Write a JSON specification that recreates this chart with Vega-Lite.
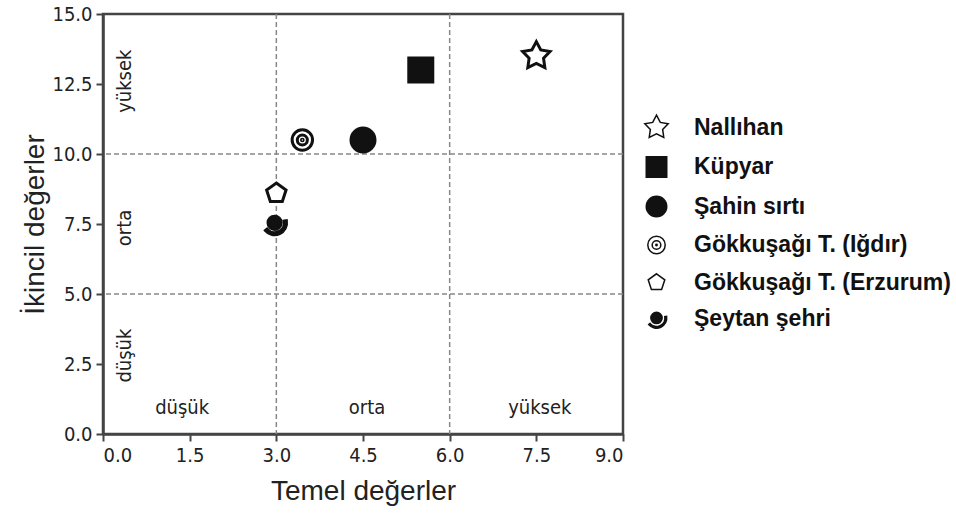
{
  "$schema": "https://vega.github.io/schema/vega-lite/v6.json",
  "autosize": {"type": "none"},
  "width": 520,
  "height": 420,
  "padding": {"left": 103, "top": 14, "right": 333, "bottom": 83},
  "background": "white",
  "config": {
    "view": {"stroke": "#444", "strokeWidth": 2.5},
    "axis": {
      "labelFont": "DejaVu Sans Condensed, DejaVu Sans",
      "labelFontSize": 20,
      "labelColor": "#222",
      "domainColor": "#444",
      "domainWidth": 2.5,
      "tickColor": "#444",
      "tickWidth": 2,
      "tickSize": 7,
      "labelPadding": 4,
      "grid": false,
      "titleFont": "Liberation Sans",
      "titleFontSize": 28,
      "titleFontWeight": "normal",
      "titleColor": "#222"
    }
  },
  "layer": [
    {
      "data": {"values": [{"x": 3}, {"x": 6}]},
      "mark": {"type": "rule", "color": "#888", "strokeWidth": 1.5, "strokeDash": [5, 3]},
      "encoding": {
        "x": {"field": "x", "type": "quantitative", "scale": {"domain": [0, 9], "nice": false, "zero": false},
          "axis": {"values": [0, 1.5, 3, 4.5, 6, 7.5, 9], "format": ".1f", "title": "Temel değerler", "titlePadding": 12}}
      }
    },
    {
      "data": {"values": [{"y": 5}, {"y": 10}]},
      "mark": {"type": "rule", "color": "#888", "strokeWidth": 1.5, "strokeDash": [5, 3]},
      "encoding": {
        "y": {"field": "y", "type": "quantitative", "scale": {"domain": [0, 15], "nice": false, "zero": false},
          "axis": {"values": [0, 2.5, 5, 7.5, 10, 12.5, 15], "format": ".1f", "title": "İkincil değerler", "titlePadding": 2}}
      }
    },
    {
      "data": {"values": [
        {"x": 1.37, "y": 0.93, "label": "düşük"},
        {"x": 4.57, "y": 0.93, "label": "orta"},
        {"x": 7.56, "y": 0.93, "label": "yüksek"}
      ]},
      "mark": {"type": "text", "font": "DejaVu Sans Condensed, DejaVu Sans", "fontSize": 20, "color": "#222", "baseline": "middle", "align": "center"},
      "encoding": {
        "x": {"field": "x", "type": "quantitative", "scale": {"domain": [0, 9], "nice": false, "zero": false},
          "axis": {"values": [0, 1.5, 3, 4.5, 6, 7.5, 9], "format": ".1f", "title": "Temel değerler", "titlePadding": 12}},
        "y": {"field": "y", "type": "quantitative", "scale": {"domain": [0, 15], "nice": false, "zero": false},
          "axis": {"values": [0, 2.5, 5, 7.5, 10, 12.5, 15], "format": ".1f", "title": "İkincil değerler", "titlePadding": 2}},
        "text": {"field": "label"}
      }
    },
    {
      "data": {"values": [
        {"x": 0.38, "y": 12.6, "label": "yüksek"},
        {"x": 0.38, "y": 7.36, "label": "orta"},
        {"x": 0.38, "y": 2.8, "label": "düşük"}
      ]},
      "mark": {"type": "text", "font": "DejaVu Sans Condensed, DejaVu Sans", "fontSize": 20, "color": "#222", "baseline": "middle", "align": "center", "angle": 270},
      "encoding": {
        "x": {"field": "x", "type": "quantitative", "scale": {"domain": [0, 9], "nice": false, "zero": false},
          "axis": {"values": [0, 1.5, 3, 4.5, 6, 7.5, 9], "format": ".1f", "title": "Temel değerler", "titlePadding": 12}},
        "y": {"field": "y", "type": "quantitative", "scale": {"domain": [0, 15], "nice": false, "zero": false},
          "axis": {"values": [0, 2.5, 5, 7.5, 10, 12.5, 15], "format": ".1f", "title": "İkincil değerler", "titlePadding": 2}},
        "text": {"field": "label"}
      }
    },
    {
      "data": {"values": [
        {"x": 7.5, "y": 13.5, "name": "Nallıhan"},
        {"x": 5.5, "y": 13.0, "name": "Küpyar"},
        {"x": 4.5, "y": 10.5, "name": "Şahin sırtı"},
        {"x": 3.45, "y": 10.5, "name": "Gökkuşağı T. (Iğdır)"},
        {"x": 3.0, "y": 8.6, "name": "Gökkuşağı T. (Erzurum)"},
        {"x": 2.97, "y": 7.5, "name": "Şeytan şehri"}
      ]},
      "mark": {"type": "point", "size": 576, "stroke": "#111", "strokeWidth": 3, "opacity": 1},
      "encoding": {
        "x": {"field": "x", "type": "quantitative", "scale": {"domain": [0, 9], "nice": false, "zero": false},
          "axis": {"values": [0, 1.5, 3, 4.5, 6, 7.5, 9], "format": ".1f", "title": "Temel değerler", "titlePadding": 12}},
        "y": {"field": "y", "type": "quantitative", "scale": {"domain": [0, 15], "nice": false, "zero": false},
          "axis": {"values": [0, 2.5, 5, 7.5, 10, 12.5, 15], "format": ".1f", "title": "İkincil değerler", "titlePadding": 2}},
        "shape": {
          "field": "name", "type": "nominal", "sort": null,
          "scale": {
            "domain": ["Nallıhan", "Küpyar", "Şahin sırtı", "Gökkuşağı T. (Iğdır)", "Gökkuşağı T. (Erzurum)", "Şeytan şehri"],
            "range": [
              "M0,-1.2 L0.37,-0.5 L1.14,-0.37 L0.6,0.19 L0.71,0.97 L0,0.62 L-0.71,0.97 L-0.6,0.19 L-1.14,-0.37 L-0.37,-0.5 Z",
              "square",
              "circle",
              "M -0.85 0 A 0.85 0.85 0 1 0 0.85 0 A 0.85 0.85 0 1 0 -0.85 0 Z M -0.42 0 A 0.42 0.42 0 1 0 0.42 0 A 0.42 0.42 0 1 0 -0.42 0 Z M -0.07 0 A 0.07 0.07 0 1 0 0.07 0 A 0.07 0.07 0 1 0 -0.07 0 Z",
              "M0,-0.85 L0.81,-0.26 L0.5,0.69 L-0.5,0.69 L-0.81,-0.26 Z",
              "M -0.55 -0.1 A 0.55 0.55 0 1 0 0.55 -0.1 A 0.55 0.55 0 1 0 -0.55 -0.1 Z M 0.985 -0.27 A 1 1 0 0 1 -0.766 0.543 L -0.628 0.427 A 0.82 0.82 0 0 0 0.808 -0.242 Z"
            ]
          },
          "legend": {
            "title": null,
            "orient": "none",
            "legendX": 542,
            "legendY": 102,
            "symbolSize": 420,
            "labelFont": "Liberation Sans",
            "labelFontWeight": "bold",
            "labelFontSize": 23,
            "labelColor": "#111",
            "labelOffset": 26,
            "rowPadding": 12.5,
            "labelLimit": 400,
            "encode": {"symbols": {"update": {"stroke": {"value": "#111"}, "strokeWidth": {"value": 3}, "opacity": {"value": 1}}}}
          }
        },
        "fill": {
          "field": "name", "type": "nominal", "sort": null,
          "scale": {
            "domain": ["Nallıhan", "Küpyar", "Şahin sırtı", "Gökkuşağı T. (Iğdır)", "Gökkuşağı T. (Erzurum)", "Şeytan şehri"],
            "range": ["#ffffff", "#111111", "#111111", "#ffffff", "#ffffff", "#111111"]
          },
          "legend": {
            "title": null,
            "orient": "none",
            "legendX": 542,
            "legendY": 102,
            "symbolSize": 420,
            "labelFont": "Liberation Sans",
            "labelFontWeight": "bold",
            "labelFontSize": 23,
            "labelColor": "#111",
            "labelOffset": 26,
            "rowPadding": 12.5,
            "labelLimit": 400,
            "encode": {"symbols": {"update": {"stroke": {"value": "#111"}, "strokeWidth": {"value": 3}, "opacity": {"value": 1}}}}
          }
        }
      }
    }
  ]
}
